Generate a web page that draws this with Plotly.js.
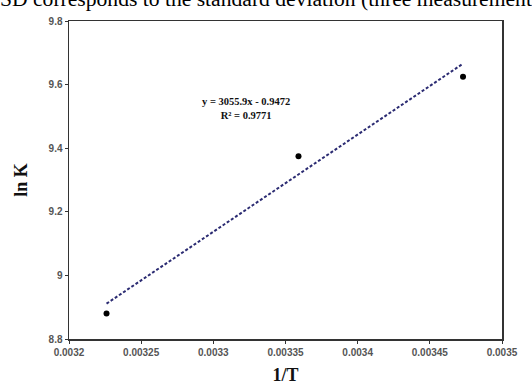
<!DOCTYPE html>
<html>
<head>
<meta charset="utf-8">
<script src="https://cdn.plot.ly/plotly-3.0.1.min.js"></script>
<style>html,body{margin:0;padding:0;background:#fff;}#chart{width:532px;height:387px;}</style>
</head>
<body>
<div id="chart"></div>
<script>
// Data
const invT = [0.003226, 0.003359, 0.003473];
const lnK = [8.88, 9.375, 9.625];
// Trendline coefficients as shown on the chart
const slope = 3055.9;
const intercept = -0.9472;
const eqText = 'y = 3055.9x - 0.9472';
const r2Text = 'R² = 0.9771';
const xTicks = [0.0032, 0.00325, 0.0033, 0.00335, 0.0034, 0.00345, 0.0035];
const xTickLabels = ['0.0032', '0.00325', '0.0033', '0.00335', '0.0034', '0.00345', '0.0035'];
const yTicks = [8.8, 9, 9.2, 9.4, 9.6, 9.8];
const yTickLabels = ['8.8', '9', '9.2', '9.4', '9.6', '9.8'];
const captionText = 'SD corresponds to the standard deviation (three measurements)';

const xFit = [invT[0], invT[invT.length - 1]];
const yFit = xFit.map(x => slope * x + intercept);

const traces = [
  {
    x: xFit, y: yFit, type: 'scatter', mode: 'lines',
    line: {color: '#2b2b72', width: 2, dash: '3px,2px'},
    hoverinfo: 'skip', showlegend: false
  },
  {
    x: invT, y: lnK, type: 'scatter', mode: 'markers',
    marker: {color: '#000', size: 6}, showlegend: false
  }
];

const tickFont = {family: 'Liberation Sans, Arial, sans-serif', size: 10, color: '#555', weight: 'bold'};
const serif = 'Liberation Serif, Times New Roman, serif';
const layout = {
  width: 532, height: 387,
  margin: {l: 69, r: 30, t: 21, b: 48},
  paper_bgcolor: '#fff', plot_bgcolor: '#fff',
  showlegend: false,
  xaxis: {
    range: [0.0032, 0.0035], tickvals: xTicks, ticktext: xTickLabels,
    showgrid: false, zeroline: false, showline: true, mirror: true,
    linecolor: '#333', linewidth: 1.5, ticks: 'outside', ticklen: 3, tickcolor: '#333',
    tickfont: tickFont,
    title: {text: '<b>1/T</b>', font: {family: serif, size: 18, color: '#111'}, standoff: 12}
  },
  yaxis: {
    range: [8.8, 9.8], tickvals: yTicks, ticktext: yTickLabels,
    showgrid: false, zeroline: false, showline: true, mirror: true,
    linecolor: '#333', linewidth: 1.5, ticks: 'outside', ticklen: 3, tickcolor: '#333',
    tickfont: tickFont,
    title: {text: '<b>ln K</b>', font: {family: serif, size: 18, color: '#111'}, standoff: 16}
  },
  annotations: [
    {
      xref: 'paper', yref: 'paper', x: 0.408, y: 0.726, xanchor: 'center', yanchor: 'middle',
      text: '<b>' + eqText + '</b><br><b>' + r2Text + '</b>', showarrow: false,
      font: {family: serif, size: 10.5, color: '#111'}
    },
    {
      xref: 'paper', yref: 'paper', x: 0, y: 1, xanchor: 'left', yanchor: 'bottom',
      xshift: -71, yshift: 8,
      text: captionText, showarrow: false,
      font: {family: serif, size: 21.6, color: '#000'}
    }
  ]
};

Plotly.newPlot('chart', traces, layout, {displayModeBar: false, staticPlot: true});
</script>
</body>
</html>
